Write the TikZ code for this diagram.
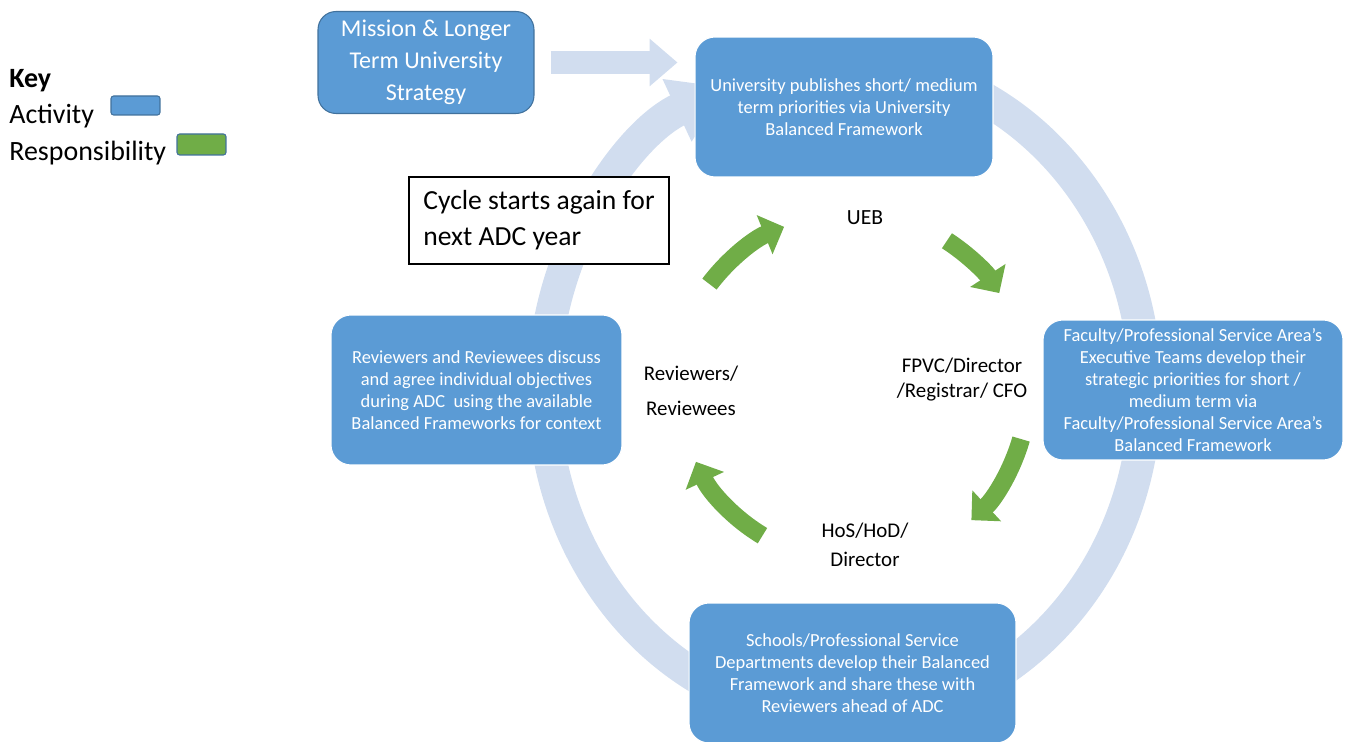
\documentclass[tikz,border=0pt]{standalone}
\usepackage{fontspec}
\setmainfont{Carlito}
\usetikzlibrary{arrows.meta}
\definecolor{actblue}{RGB}{91,155,213}
\definecolor{actedge}{RGB}{65,113,156}
\definecolor{resgreen}{RGB}{112,173,71}
\definecolor{ringblue}{RGB}{209,221,239}
\tikzset{
  act/.style={rounded corners=0.4cm, fill=actblue, draw=white, line width=0.6pt,
    text=white, align=center, inner sep=0pt, font=\fontsize{10.5}{12.5}\selectfont},
  res/.style={align=center, inner sep=0pt},
  resarrow/.style={resgreen, line width=0.36cm, -{Triangle[length=0.42cm,width=0.82cm]}},
  keytxt/.style={anchor=base west, inner sep=0pt, font=\fontsize{15.9}{19}\selectfont},
  keybox/.style={rounded corners=1.5pt, draw=actedge, line width=0.6pt,
    minimum width=0.98cm, inner sep=0pt}
}
\begin{document}
\begin{tikzpicture}[x=0.02cm, y=-0.02cm]
\useasboundingbox (0,0) rectangle (1348,742);
% big cycle ring
\coordinate (ring) at (844.5,390);
\draw[ringblue, line width=0.66cm, -{Triangle[length=1.1cm,width=1.3cm]}]
  ([shift={(80:6.02cm and 6.58cm)}]ring) arc[start angle=80, end angle=-247, x radius=6.02cm, y radius=6.58cm];
% activities
\node[act, minimum width=5.96cm, minimum height=2.8cm] (act0) at (844,107)
  {University publishes short/ medium\\term priorities via University\\Balanced Framework};
\node[act, minimum width=6cm, minimum height=2.8cm] (act1) at (1193,390)
  {Faculty/Professional Service Area’s\\Executive Teams develop their\\strategic priorities for short /\\medium term via\\Faculty/Professional Service Area’s\\Balanced Framework};
\node[act, minimum width=6.54cm, minimum height=2.8cm] (act2) at (852.5,673)
  {Schools/Professional Service\\Departments develop their Balanced\\Framework and share these with\\Reviewers ahead of ADC};
\node[act, minimum width=5.82cm, minimum height=3cm] (act3) at (476.5,390)
  {Reviewers and Reviewees discuss\\and agree individual objectives\\during ADC~ using the available\\Balanced Frameworks for context};
\node[act, draw=actedge, rounded corners=0.36cm, minimum width=4.32cm, minimum height=2.04cm,
  font=\fontsize{13.7}{18.1}\selectfont] (act4) at (426,62.5) {Mission \& Longer\\Term University\\Strategy};
\draw[ringblue, line width=0.46cm, -{Triangle[length=0.56cm,width=0.92cm]}, shorten <=0.32cm, shorten >=0.34cm]
  (act4.east) -- (act4.east -| act0.west);
% responsibilities
\coordinate (hub) at (850,390);
\draw[resarrow] ([shift={(143:3.52cm)}]hub) arc[start angle=143, end angle=112, radius=3.52cm];
\draw[resarrow] ([shift={(57:3.56cm)}]hub) arc[start angle=57, end angle=33, radius=3.56cm];
\draw[resarrow] ([shift={(-16:3.56cm)}]hub) arc[start angle=-16, end angle=-47, radius=3.56cm];
\draw[resarrow] ([shift={(239:3.4cm)}]hub) arc[start angle=239, end angle=205, radius=3.4cm];
\node[res, font=\fontsize{12.3}{14.2}\selectfont] (res0) at (865,218) {UEB};
\node[res, font=\fontsize{11.9}{14.2}\selectfont] (res1) at (962,380) {FPVC/Director\\/Registrar/ CFO};
\node[res, font=\fontsize{11.9}{16.4}\selectfont] (res2) at (865,545) {HoS/HoD/\\Director};
\node[res, font=\fontsize{11.9}{19.8}\selectfont] (res3) at (691,391) {Reviewers/\\Reviewees};
% note
\node[draw=black, fill=white, line width=0.8pt, align=left, minimum width=5.2cm,
  minimum height=1.74cm, font=\fontsize{15.7}{20.4}\selectfont] (note) at (539,220.5)
  {Cycle starts again for\\next ADC year};
% key
\node[keytxt, font=\fontsize{15.9}{19}\selectfont\bfseries] (key0) at (9,88) {Key};
\node[keytxt] (key1) at (9,124) {Activity};
\node[keytxt] (key2) at (9,161) {Responsibility};
\node[keybox, fill=actblue, minimum height=0.38cm] (key3) at (135.5,105.5) {};
\node[keybox, fill=resgreen, minimum height=0.42cm] (key4) at (201.5,144.5) {};
\end{tikzpicture}
\end{document}
